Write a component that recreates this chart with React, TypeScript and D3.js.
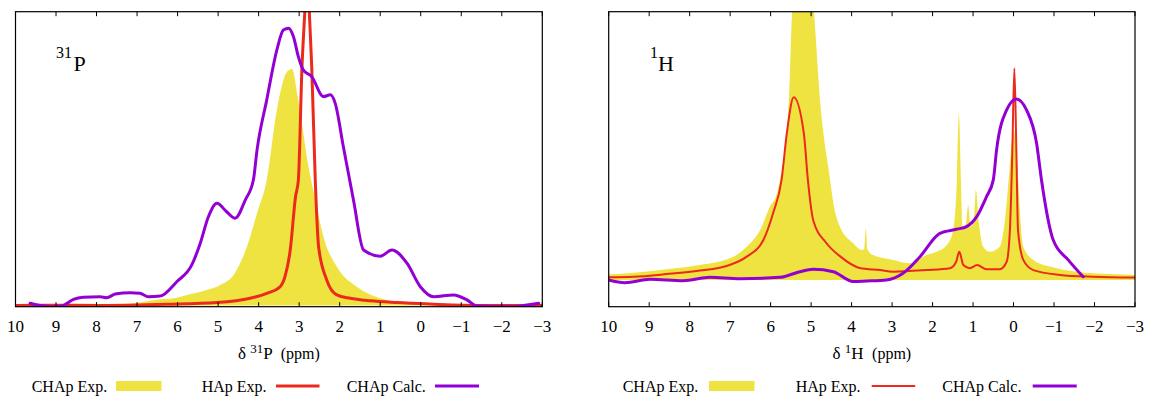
import React from 'react';
import * as d3 from 'd3';

// ---------- data ----------
const ppmTicks: number[] = [10, 9, 8, 7, 6, 5, 4, 3, 2, 1, 0, -1, -2, -3];
const tickLabels: string[] = ['10', '9', '8', '7', '6', '5', '4', '3', '2', '1', '0', '\u22121', '\u22122', '\u22123'];

const legendNames: string[] = ['CHAp Exp.', 'HAp Exp.', 'CHAp Calc.'];

// 31P panel  [ppm, intensity]
const pCHApExp: [number, number][] = [
  [10.0, 0.2], [9.6, 0.2], [8.0, 0.3], [7.09, 0.75], [6.43, 2.1], [6.1, 2.45], [5.77, 3.6],
  [5.28, 5.3], [4.95, 7.0], [4.62, 10.4], [4.29, 20.0], [4.04, 31.4], [3.8, 42.7], [3.55, 66.5],
  [3.3, 79.6], [3.18, 80.5], [3.02, 69.9], [2.77, 47.2], [2.6, 35.9], [2.4, 23.4], [2.07, 13.2],
  [1.58, 6.4], [1.0, 2.5], [0.19, 0.75], [-1.0, 0.3], [-3.0, 0.2],
];
const pHApExp: [number, number][] = [
  [10.0, 0.0], [9.0, 0.1], [7.9, 0.0], [6.27, 0.4], [5.03, 1.0], [4.21, 2.45], [3.8, 4.15],
  [3.47, 6.4], [3.35, 9.8], [3.22, 18.9], [3.09, 37.0], [3.02, 42.7], [2.93, 81.3], [2.86, 100],
  [2.8, 116], [2.75, 100], [2.69, 81.3], [2.6, 41.7], [2.52, 20.0], [2.32, 8.7], [2.07, 3.6],
  [1.74, 2.45], [1.25, 1.6], [0.59, 1.0], [-0.23, 0.5], [-1.47, 0.0], [-3.0, 0.0],
];
const pCHApCalc: [number, number][] = [
  [9.64, 0.75], [9.15, -0.4], [8.86, -0.2], [8.57, 2.1], [8.33, 2.8], [7.91, 3.0], [7.75, 2.65],
  [7.54, 3.9], [7.17, 4.35], [6.93, 4.15], [6.72, 3.0], [6.43, 3.2], [6.02, 8.1], [5.65, 13.8],
  [5.44, 21.2], [5.24, 30.2], [5.03, 34.8], [4.79, 31.9], [4.58, 29.7], [4.33, 35.9], [4.13, 42.7],
  [4.04, 52.9], [3.8, 70.0], [3.55, 87.0], [3.39, 93.8], [3.26, 94.4], [3.14, 91.5], [3.02, 84.7],
  [2.9, 80.2], [2.69, 77.9], [2.4, 71.1], [2.23, 71.7], [2.11, 68.8], [1.91, 54.1], [1.66, 35.9],
  [1.41, 18.9], [1.0, 16.8], [0.71, 18.9], [0.34, 14.4], [0.01, 6.4], [-0.32, 3.0], [-0.81, 3.6],
  [-1.14, 1.9], [-1.39, -0.2], [-2.29, -0.4], [-2.62, 0.2], [-2.91, 0.75],
];

// 1H panel  [ppm, intensity]
const hCHApExp: [number, number][] = [
  [10.0, 2.05], [9.39, 2.7], [8.57, 4.0], [7.75, 5.6], [6.92, 8.7], [6.59, 12.4], [6.26, 18.6],
  [6.02, 27.3], [5.85, 32.0], [5.77, 37.3], [5.55, 67.1], [5.47, 100], [5.2, 135], [4.93, 100],
  [4.78, 67.1], [4.53, 37.3], [4.45, 28.6], [4.29, 19.9], [3.96, 13.7], [3.75, 11.2], [3.69, 11.5],
  [3.65, 19.3], [3.61, 11.5], [3.47, 9.3], [2.97, 7.5], [2.56, 6.2], [2.15, 9.3], [1.9, 10.5],
  [1.65, 13.0], [1.49, 18.6], [1.4, 37.3], [1.35, 62.1], [1.3, 37.3], [1.26, 19.5], [1.18, 20.5],
  [1.12, 28.0], [1.06, 19.9], [0.98, 22.0], [0.93, 33.5], [0.85, 20.5], [0.75, 12.4], [0.59, 10.5],
  [0.34, 12.4], [0.2, 24.0], [0.1, 41.0], [0.0, 55.9], [-0.1, 41.0], [-0.16, 24.9], [-0.24, 12.4],
  [-0.49, 7.5], [-0.9, 5.0], [-1.56, 3.1], [-2.38, 2.2], [-3.0, 1.9],
];
const hHApExp: [number, number][] = [
  [10.0, 1.0], [9.39, 1.2], [8.57, 2.2], [7.75, 3.5], [7.09, 5.2], [6.59, 8.7], [6.18, 14.9],
  [5.94, 24.9], [5.73, 37.3], [5.6, 54.7], [5.43, 68.1], [5.18, 54.7], [5.08, 37.3], [4.95, 22.4],
  [4.62, 13.7], [4.29, 8.9], [3.8, 4.5], [3.3, 3.7], [2.97, 3.1], [2.15, 3.7], [1.57, 4.4],
  [1.42, 6.7], [1.34, 10.5], [1.24, 5.6], [1.08, 4.4], [0.9, 5.6], [0.67, 4.0], [0.34, 4.0],
  [0.17, 6.8], [0.09, 18.6], [0.03, 48.0], [-0.02, 78.9], [-0.07, 48.0], [-0.11, 18.6],
  [-0.24, 7.5], [-0.49, 3.7], [-1.14, 1.9], [-1.96, 1.2], [-3.0, 0.9],
];
const hCHApCalc: [number, number][] = [
  [10.0, 0.0], [9.6, -1.0], [8.98, 0.26], [8.16, -0.26], [7.5, 1.0], [6.76, 0.5], [5.77, 1.0],
  [5.28, 3.1], [4.95, 4.0], [4.45, 3.1], [3.96, -0.6], [3.63, -0.4], [3.14, 0.0], [2.73, 2.5],
  [2.31, 8.7], [1.82, 17.4], [1.41, 18.9], [1.16, 19.9], [0.91, 23.6], [0.67, 31.0], [0.5, 37.3],
  [0.42, 48.4], [0.17, 63.4], [-0.07, 67.5], [-0.32, 63.4], [-0.57, 50.9], [-0.69, 37.3],
  [-0.98, 14.9], [-1.35, 7.5], [-1.72, 1.2],
];

// ---------- style ----------
const YELLOW = '#efe342';
const RED = '#ec2a1c';
const PURPLE = '#9400d3';
const FONT = "'Liberation Serif', 'Times New Roman', Times, serif";
const TXT: React.CSSProperties = { fontFamily: FONT };

type PanelProps = {
  id: string;
  x0: number; x1: number; y0: number; y1: number;
  yZero: number;
  exp: [number, number][];
  hap: [number, number][];
  calc: [number, number][];
  redWidth: number;
  sup: string; nuc: string;
  labelX: number; labelSupX: number;
  legendX: number[];
};

function Panel(p: PanelProps) {
  const x = d3.scaleLinear().domain([10, -3]).range([p.x0, p.x1]);
  const y = d3.scaleLinear().domain([0, 100]).range([p.yZero, p.y0]);
  const area = d3.area<[number, number]>()
    .x(d => x(d[0])).y0(y(0)).y1(d => y(d[1])).curve(d3.curveMonotoneX);
  const line = d3.line<[number, number]>()
    .x(d => x(d[0])).y(d => y(d[1])).curve(d3.curveMonotoneX);
  const cx = (p.x0 + p.x1) / 2;
  const [lx1, rx1, lx2, lx3, lx4, lx5] = p.legendX;
  return (
    <g>
      <defs>
        <clipPath id={p.id}>
          <rect x={p.x0} y={p.y0} width={p.x1 - p.x0} height={p.y1 - p.y0} />
        </clipPath>
      </defs>
      <g clipPath={`url(#${p.id})`}>
        <path d={area(p.exp) || ''} fill={YELLOW} stroke="none" />
        <path d={line(p.hap) || ''} fill="none" stroke={RED} strokeWidth={p.redWidth} strokeLinejoin="round" />
        <path d={line(p.calc) || ''} fill="none" stroke={PURPLE} strokeWidth={3} strokeLinejoin="round" strokeLinecap="round" />
      </g>
      {/* frame */}
      <rect x={p.x0} y={p.y0} width={p.x1 - p.x0} height={p.y1 - p.y0} fill="none" stroke="#000" strokeWidth={1.2} />
      {ppmTicks.map((t, i) => (
        <g key={t}>
          <line x1={x(t)} x2={x(t)} y1={p.y0} y2={p.y0 + 4.5} stroke="#000" strokeWidth={1} />
          <line x1={x(t)} x2={x(t)} y1={p.y1} y2={p.y1 - 4.5} stroke="#000" strokeWidth={1} />
          <text x={x(t)} y={331.5} textAnchor="middle" style={TXT} fontSize={17} fill="#000">{tickLabels[i]}</text>
        </g>
      ))}
      {/* nucleus label inside */}
      <text x={p.labelSupX} y={58} style={TXT} fontSize={16} fill="#000">{p.sup}</text>
      <text x={p.labelX} y={70.5} style={TXT} fontSize={22} fill="#000">{p.nuc}</text>
      {/* axis label */}
      <text x={cx} y={358.5} textAnchor="middle" fontSize={17} fill="#000" style={{ fontFamily: FONT, whiteSpace: 'pre' }}>
        <tspan>{'\u03b4 '}</tspan>
        <tspan fontSize={13} dy={-6}>{p.sup}</tspan>
        <tspan dy={6}>{p.nuc + '  '}</tspan>
        <tspan fontSize={16}>(ppm)</tspan>
      </text>
      {/* legend */}
      <text x={lx1} y={391.5} style={TXT} fontSize={16} fill="#000">{legendNames[0]}</text>
      <rect x={rx1} y={381} width={45.5} height={10} fill={YELLOW} />
      <text x={lx2} y={391.5} style={TXT} fontSize={16} fill="#000">{legendNames[1]}</text>
      <line x1={lx3} x2={lx3 + 43.5} y1={386} y2={386} stroke={RED} strokeWidth={p.redWidth} />
      <text x={lx4} y={391.5} style={TXT} fontSize={16} fill="#000">{legendNames[2]}</text>
      <line x1={lx5} x2={lx5 + 44} y1={386} y2={386} stroke={PURPLE} strokeWidth={3} />
    </g>
  );
}

export default function App() {
  return (
    <svg width={1153} height={399} viewBox="0 0 1153 399"
      style={{ position: 'absolute', left: 0, top: 0, background: '#fff' }}>
      <rect x={0} y={0} width={1153} height={399} fill="#fff" />
      <Panel id="clipP" x0={15.5} x1={542.3} y0={11.7} y1={306.7} yZero={305.5}
        exp={pCHApExp} hap={pHApExp} calc={pCHApCalc} redWidth={3}
        sup="31" nuc="P" labelSupX={56} labelX={73.5}
        legendX={[31.7, 116, 201.7, 276, 346.7, 435]} />
      <Panel id="clipH" x0={608.7} x1={1135} y0={11.7} y1={306.7} yZero={280}
        exp={hCHApExp} hap={hHApExp} calc={hCHApCalc} redWidth={2}
        sup="1" nuc="H" labelSupX={650} labelX={658}
        legendX={[622.7, 709, 795.7, 871.7, 942.3, 1032.7]} />
    </svg>
  );
}
